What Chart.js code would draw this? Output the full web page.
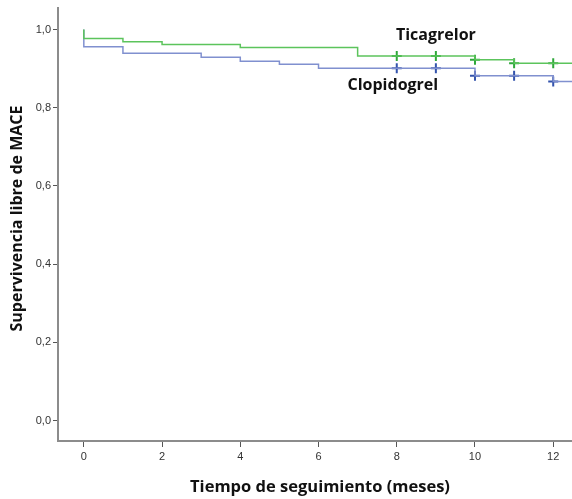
<!DOCTYPE html>
<html>
<head>
<meta charset="utf-8">
<script src="https://cdn.jsdelivr.net/npm/chart.js@4.4.1/dist/chart.umd.min.js"></script>
<style>
  html, body { margin: 0; padding: 0; background: #fff; }
  #wrap { width: 572px; height: 499px; }
</style>
</head>
<body>
<div id="wrap"><canvas id="kmChart" width="572" height="499"></canvas></div>
<script>
// step curves (time in months, survival)
const ticaTime = [0, 0, 1, 2, 4, 7, 10, 11, 12.48];
const ticaSurv = [1.0, 0.977, 0.969, 0.962, 0.954, 0.932, 0.923, 0.914, 0.914];
const clopTime = [0, 0, 1, 3, 4, 5, 6, 10, 12, 12.48];
const clopSurv = [1.0, 0.956, 0.939, 0.929, 0.919, 0.911, 0.901, 0.882, 0.867, 0.867];

// censored cases
const ticaCensTime = [8, 9, 10, 11, 12];
const ticaCensSurv = [0.932, 0.932, 0.923, 0.914, 0.914];
const clopCensTime = [8, 9, 10, 11, 12];
const clopCensSurv = [0.901, 0.901, 0.882, 0.882, 0.867];

const xTicks = [0, 2, 4, 6, 8, 10, 12];
const yTicks = [0, 0.2, 0.4, 0.6, 0.8, 1.0];

const xTitle = 'Tiempo de seguimiento (meses)';
const yTitle = 'Supervivencia libre de MACE';

// curve labels, placed in data units
const curveLabels = [
    { text: 'Ticagrelor', x: 9.0, y: 0.986 },
    { text: 'Clopidogrel', x: 7.9, y: 0.858 }
];

const toPoints = (xs, ys) => xs.map((x, i) => ({ x: x, y: ys[i] }));

const tickFont = { family: "'Liberation Sans Narrow', 'Liberation Sans', Arial", size: 11 };
const boldFamily = "'Open Sans', 'Noto Sans', sans-serif";

const textPlugin = {
    id: 'kmText',
    afterDatasetsDraw(chart) {
        const ctx = chart.ctx;
        const xs = chart.scales.x;
        const ys = chart.scales.y;
        const area = chart.chartArea;
        ctx.save();
        ctx.fillStyle = '#111';
        ctx.textAlign = 'center';
        ctx.textBaseline = 'middle';

        ctx.font = 'bold 16px ' + boldFamily;
        curveLabels.forEach(l => {
            ctx.fillText(l.text, xs.getPixelForValue(l.x), ys.getPixelForValue(l.y));
        });

        // axis titles
        ctx.font = 'bold 16.5px ' + boldFamily;
        ctx.fillText(xTitle, (area.left + area.right) / 2 + 5, chart.height - 12);

        ctx.font = 'bold 16px ' + boldFamily;
        ctx.translate(17, (area.top + area.bottom) / 2 - 6);
        ctx.rotate(-Math.PI / 2);
        ctx.fillText(yTitle, 0, 0);
        ctx.restore();
    }
};

new Chart(document.getElementById('kmChart'), {
    type: 'line',
    data: {
        datasets: [{
            label: 'Ticagrelor',
            data: toPoints(ticaTime, ticaSurv),
            borderColor: '#5cc45c',
            borderWidth: 1.5,
            stepped: true,
            pointRadius: 0,
            fill: false
        }, {
            label: 'Clopidogrel',
            data: toPoints(clopTime, clopSurv),
            borderColor: '#8090cf',
            borderWidth: 1.5,
            stepped: true,
            pointRadius: 0,
            fill: false
        }, {
            label: 'Ticagrelor censurado',
            data: toPoints(ticaCensTime, ticaCensSurv),
            showLine: false,
            pointStyle: 'cross',
            pointRadius: 5,
            pointBorderWidth: 2,
            borderColor: '#2fa83a',
            backgroundColor: '#2fa83a'
        }, {
            label: 'Clopidogrel censurado',
            data: toPoints(clopCensTime, clopCensSurv),
            showLine: false,
            pointStyle: 'cross',
            pointRadius: 5,
            pointBorderWidth: 2,
            borderColor: '#3353ac',
            backgroundColor: '#3353ac'
        }]
    },
    options: {
        responsive: false,
        animation: false,
        layout: { autoPadding: false, padding: { top: 8, right: 0, left: 0, bottom: 0 } },
        plugins: {
            legend: { display: false },
            tooltip: { enabled: false }
        },
        scales: {
            x: {
                type: 'linear',
                min: -0.66,
                max: 12.48,
                afterBuildTicks: s => { s.ticks = xTicks.map(v => ({ value: v })); },
                afterFit: s => { s.height = 58; s.paddingLeft = 0; s.paddingRight = 0; },
                border: { color: '#8c8c8c', width: 2 },
                grid: { drawOnChartArea: false, drawTicks: true, tickLength: 6, color: '#555' },
                ticks: { font: tickFont, color: '#333', padding: 3, maxRotation: 0 }
            },
            y: {
                type: 'linear',
                min: -0.052,
                max: 1.055,
                afterBuildTicks: s => { s.ticks = yTicks.map(v => ({ value: v })); },
                afterFit: s => { s.width = 58; s.paddingTop = 0; s.paddingBottom = 0; },
                border: { color: '#8c8c8c', width: 2 },
                grid: { drawOnChartArea: false, drawTicks: true, tickLength: 5, color: '#555' },
                ticks: {
                    font: tickFont,
                    color: '#333',
                    padding: 2,
                    callback: v => v.toFixed(1).replace('.', ',')
                }
            }
        }
    },
    plugins: [textPlugin]
});
</script>
</body>
</html>
